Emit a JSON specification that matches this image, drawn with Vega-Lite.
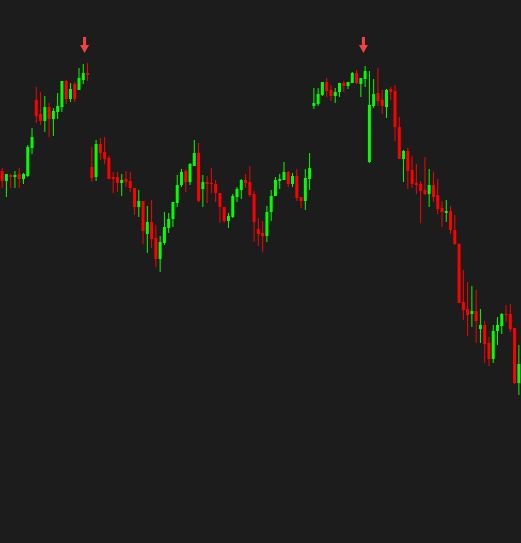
{
  "$schema": "https://vega.github.io/schema/vega-lite/v6.json",
  "width": 521,
  "height": 543,
  "autosize": {"type": "fit", "contains": "padding"},
  "padding": 0,
  "background": "#1c1c1c",
  "config": {"view": {"stroke": null}},
  "data": {"values": [
    {"i":1,"o":429,"h":432,"l":412,"c":419},
    {"i":2,"o":419,"h":426,"l":403,"c":426},
    {"i":3,"o":425,"h":426,"l":412,"c":423},
    {"i":4,"o":423,"h":429,"l":412,"c":425},
    {"i":5,"o":426,"h":432,"l":412,"c":421},
    {"i":6,"o":421,"h":427,"l":416,"c":426},
    {"i":7,"o":424,"h":455,"l":423,"c":453},
    {"i":8,"o":452,"h":472,"l":446,"c":463},
    {"i":9,"o":500,"h":513,"l":477,"c":484},
    {"i":10,"o":486,"h":508,"l":475,"c":479},
    {"i":11,"o":479,"h":504,"l":468,"c":493},
    {"i":12,"o":493,"h":497,"l":463,"c":481},
    {"i":13,"o":481,"h":492,"l":464,"c":489},
    {"i":14,"o":488,"h":507,"l":481,"c":494},
    {"i":15,"o":493,"h":519,"l":488,"c":519},
    {"i":16,"o":519,"h":520,"l":496,"c":501},
    {"i":17,"o":501,"h":517,"l":498,"c":511},
    {"i":18,"o":516,"h":518,"l":498,"c":501},
    {"i":19,"o":510,"h":532,"l":510,"c":522},
    {"i":20,"o":520,"h":536,"l":516,"c":527},
    {"i":21,"o":527,"h":537,"l":519,"c":525},
    {"i":22,"o":433,"h":453,"l":418,"c":422},
    {"i":23,"o":423,"h":460,"l":419,"c":456},
    {"i":24,"o":456,"h":462,"l":440,"c":447},
    {"i":25,"o":448,"h":463,"l":436,"c":441},
    {"i":26,"o":442,"h":444,"l":421,"c":421},
    {"i":27,"o":423,"h":428,"l":407,"c":421},
    {"i":28,"o":423,"h":428,"l":408,"c":417},
    {"i":29,"o":417,"h":426,"l":404,"c":420},
    {"i":30,"o":421,"h":429,"l":413,"c":418},
    {"i":31,"o":419,"h":428,"l":408,"c":412},
    {"i":32,"o":412,"h":412,"l":385,"c":393},
    {"i":33,"o":393,"h":410,"l":383,"c":399},
    {"i":34,"o":399,"h":399,"l":356,"c":369},
    {"i":35,"o":366,"h":394,"l":347,"c":378},
    {"i":36,"o":378,"h":400,"l":352,"c":361},
    {"i":37,"o":362,"h":375,"l":333,"c":341},
    {"i":38,"o":341,"h":364,"l":328,"c":358},
    {"i":39,"o":357,"h":388,"l":355,"c":373},
    {"i":40,"o":372,"h":387,"l":367,"c":381},
    {"i":41,"o":381,"h":398,"l":373,"c":398},
    {"i":42,"o":397,"h":425,"l":393,"c":415},
    {"i":43,"o":415,"h":431,"l":413,"c":428},
    {"i":44,"o":429,"h":431,"l":408,"c":418},
    {"i":45,"o":418,"h":437,"l":415,"c":436},
    {"i":46,"o":434,"h":460,"l":434,"c":447},
    {"i":47,"o":447,"h":457,"l":398,"c":399},
    {"i":48,"o":411,"h":425,"l":393,"c":418},
    {"i":49,"o":418,"h":424,"l":397,"c":416},
    {"i":50,"o":417,"h":432,"l":407,"c":416},
    {"i":51,"o":416,"h":420,"l":398,"c":407},
    {"i":52,"o":407,"h":407,"l":377,"c":393},
    {"i":53,"o":393,"h":393,"l":377,"c":379},
    {"i":54,"o":379,"h":387,"l":372,"c":384},
    {"i":55,"o":383,"h":406,"l":382,"c":404},
    {"i":56,"o":403,"h":413,"l":398,"c":411},
    {"i":57,"o":410,"h":421,"l":401,"c":420},
    {"i":58,"o":420,"h":426,"l":412,"c":417},
    {"i":59,"o":418,"h":434,"l":403,"c":405},
    {"i":60,"o":406,"h":409,"l":358,"c":378},
    {"i":61,"o":371,"h":382,"l":354,"c":366},
    {"i":62,"o":367,"h":379,"l":348,"c":364},
    {"i":63,"o":364,"h":394,"l":358,"c":388},
    {"i":64,"o":388,"h":410,"l":379,"c":404},
    {"i":65,"o":404,"h":423,"l":404,"c":420},
    {"i":66,"o":419,"h":426,"l":411,"c":421},
    {"i":67,"o":420,"h":438,"l":420,"c":428},
    {"i":68,"o":428,"h":429,"l":413,"c":416},
    {"i":69,"o":416,"h":427,"l":413,"c":424},
    {"i":70,"o":424,"h":431,"l":399,"c":402},
    {"i":71,"o":403,"h":403,"l":392,"c":399},
    {"i":72,"o":399,"h":431,"l":390,"c":422},
    {"i":73,"o":421,"h":447,"l":410,"c":432},
    {"i":74,"o":494,"h":512,"l":491,"c":497},
    {"i":75,"o":496,"h":512,"l":494,"c":506},
    {"i":76,"o":505,"h":518,"l":504,"c":518},
    {"i":77,"o":518,"h":522,"l":503,"c":509},
    {"i":78,"o":510,"h":515,"l":499,"c":504},
    {"i":79,"o":504,"h":512,"l":497,"c":508},
    {"i":80,"o":508,"h":517,"l":503,"c":517},
    {"i":81,"o":517,"h":519,"l":508,"c":514},
    {"i":82,"o":514,"h":518,"l":511,"c":518},
    {"i":83,"o":517,"h":528,"l":517,"c":527},
    {"i":84,"o":527,"h":530,"l":516,"c":517},
    {"i":85,"o":516,"h":522,"l":503,"c":522},
    {"i":86,"o":521,"h":534,"l":513,"c":529},
    {"i":87,"o":438,"h":529,"l":437,"c":495},
    {"i":88,"o":494,"h":521,"l":492,"c":506},
    {"i":89,"o":507,"h":532,"l":494,"c":499},
    {"i":90,"o":500,"h":510,"l":486,"c":494},
    {"i":91,"o":493,"h":511,"l":482,"c":510},
    {"i":92,"o":511,"h":513,"l":500,"c":508},
    {"i":93,"o":509,"h":515,"l":459,"c":473},
    {"i":94,"o":473,"h":483,"l":441,"c":441},
    {"i":95,"o":441,"h":450,"l":418,"c":449},
    {"i":96,"o":449,"h":452,"l":411,"c":429},
    {"i":97,"o":430,"h":444,"l":412,"c":416},
    {"i":98,"o":417,"h":436,"l":406,"c":415},
    {"i":99,"o":416,"h":419,"l":377,"c":409},
    {"i":100,"o":410,"h":443,"l":405,"c":406},
    {"i":101,"o":406,"h":431,"l":393,"c":415},
    {"i":102,"o":415,"h":428,"l":398,"c":403},
    {"i":103,"o":405,"h":421,"l":386,"c":391},
    {"i":104,"o":392,"h":399,"l":373,"c":388},
    {"i":105,"o":387,"h":400,"l":378,"c":389},
    {"i":106,"o":389,"h":394,"l":366,"c":370},
    {"i":107,"o":370,"h":385,"l":355,"c":356},
    {"i":108,"o":356,"h":357,"l":297,"c":297},
    {"i":109,"o":298,"h":330,"l":280,"c":290},
    {"i":110,"o":291,"h":318,"l":264,"c":285},
    {"i":111,"o":286,"h":314,"l":273,"c":289},
    {"i":112,"o":289,"h":310,"l":257,"c":279},
    {"i":113,"o":271,"h":291,"l":257,"c":275},
    {"i":114,"o":275,"h":279,"l":237,"c":256},
    {"i":115,"o":257,"h":263,"l":234,"c":241},
    {"i":116,"o":241,"h":275,"l":237,"c":269},
    {"i":117,"o":269,"h":283,"l":255,"c":275},
    {"i":118,"o":274,"h":287,"l":266,"c":286},
    {"i":119,"o":286,"h":295,"l":278,"c":285},
    {"i":120,"o":286,"h":296,"l":268,"c":271},
    {"i":121,"o":272,"h":272,"l":216,"c":217},
    {"i":122,"o":217,"h":255,"l":205,"c":236}
  ]},
  "encoding": {
    "x": {"field": "i", "type": "quantitative", "axis": null, "scale": {"domain": [0.5, 122.5], "nice": false, "zero": false, "padding": 0}},
    "color": {"condition": {"test": "datum.c >= datum.o", "value": "#00ff00"}, "value": "#ff0000"}
  },
  "layer": [
    {
      "mark": {"type": "rule", "strokeWidth": 1},
      "encoding": {
        "y": {"field": "l", "type": "quantitative", "axis": null, "scale": {"domain": [57, 600], "nice": false, "zero": false, "padding": 0}},
        "y2": {"field": "h"}
      }
    },
    {
      "mark": {"type": "bar", "size": 3},
      "encoding": {
        "y": {"field": "o", "type": "quantitative", "axis": null, "scale": {"domain": [57, 600], "nice": false, "zero": false, "padding": 0}},
        "y2": {"field": "c"}
      }
    },
    {
      "data": {"values": [{"i": 20.3, "p": 555}, {"i": 85.6, "p": 555}]},
      "mark": {"type": "point", "filled": true, "opacity": 1, "strokeWidth": 0, "size": 256, "shape": "M-0.19,-1L0.19,-1L0.19,0L0.56,0L0,1L-0.56,0L-0.19,0Z"},
      "encoding": {
        "y": {"field": "p", "type": "quantitative", "axis": null, "scale": {"domain": [57, 600], "nice": false, "zero": false, "padding": 0}},
        "color": {"value": "#f04444"}
      }
    }
  ]
}
